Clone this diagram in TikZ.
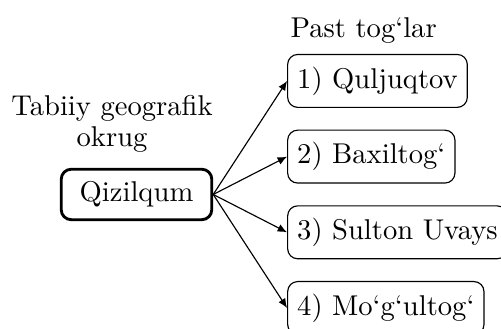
\documentclass[tikz,border=0pt]{standalone}
\usepackage{tikz}
\usetikzlibrary{arrows.meta, positioning}

\begin{document}
\begin{tikzpicture}[
    okrugbox/.style={rounded corners=3.5pt, draw, line width=1pt, minimum width=1.85cm, minimum height=0.62cm},
    togbox/.style={rounded corners=3.5pt, draw, minimum height=0.65cm, anchor=west},
    togarrow/.style={-{Latex[length=3.3pt, width=2.8pt]}}
  ]
    \useasboundingbox (-1.677,-1.652) rectangle (4.478,2.389);
    \node[okrugbox] (okrug) {Qizilqum};
    \node[align=center, above=0.06cm of okrug, xshift=-0.3cm] (okruglbl) {Tabiiy geografik\\[-1pt]okrug};
    % tog'lar
    \foreach \tog [count=\i] in {1) Quljuqtov, 2) Baxiltog`, 3) Sulton Uvays, 4) Mo`g`ultog`} {
      \node[togbox] (tog\i) at (1.85, {(2.5-\i)*0.93}) {\tog};
      \draw[togarrow] (okrug.east) -- (tog\i.west);
    }
    \node[anchor=south west, xshift=-0.08cm] (toglbl) at (tog1.north west) {Past tog`lar};
\end{tikzpicture}
\end{document}
